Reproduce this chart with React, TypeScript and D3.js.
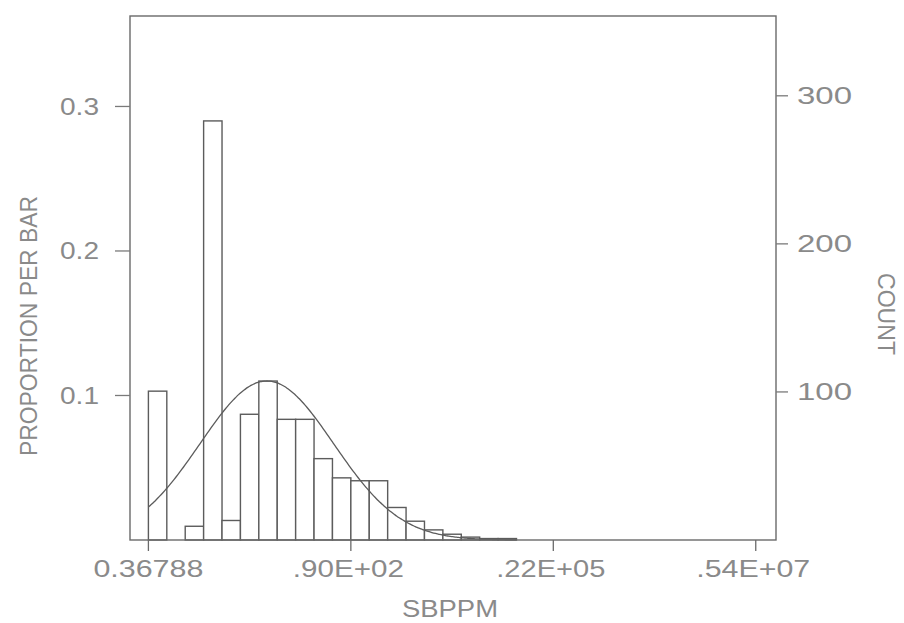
import React from "react";
import * as d3 from "d3";

// Histogram of ln(SBPPM), bins of width 0.5 (natural log units)
const binStarts = [-1, -0.5, 0, 0.5, 1, 1.5, 2, 2.5, 3, 3.5, 4, 4.5, 5, 5.5, 6, 6.5, 7, 7.5, 8, 8.5];
const proportions = [0.103, 0, 0.0095, 0.29, 0.0135, 0.087, 0.11, 0.0835, 0.0835, 0.0563, 0.043, 0.041, 0.041, 0.0225, 0.013, 0.007, 0.004, 0.002, 0.001, 0.001];
const BIN_WIDTH = 0.5;
const TOTAL_COUNT = 976;

// fitted normal curve (in ln units)
const FIT_MEAN = 2.217;
const FIT_SD = 1.813;
const FIT_RANGE = [-1, 9];

const xTickPositions = [-1, 4.5, 10, 15.5];
const xTickLabels = ["0.36788", ".90E+02", ".22E+05", ".54E+07"];
const xTickWidths = [110, 111, 109, 114];
const propTicks = [0.1, 0.2, 0.3];
const propTickLabels = ["0.1", "0.2", "0.3"];
const countTicks = [100, 200, 300];
const countTickLabels = ["100", "200", "300"];

const W = 904;
const H = 623;
const left = 130;
const right = 776;
const top = 16;
const bottom = 540;

export default function App() {
  const x = d3.scaleLinear().domain([-1.5, 16.05]).range([left, right]);
  const yP = d3.scaleLinear().domain([0, 0.3626]).range([bottom, top]);
  const yC = d3.scaleLinear().domain([0, 0.3626 * TOTAL_COUNT]).range([bottom, top]);

  const curvePts: [number, number][] = d3.range(FIT_RANGE[0], FIT_RANGE[1] + 0.001, 0.05).map((v) => {
    const z = (v - FIT_MEAN) / FIT_SD;
    const p = (BIN_WIDTH / (FIT_SD * Math.sqrt(2 * Math.PI))) * Math.exp(-0.5 * z * z);
    return [v, p];
  });
  const line = d3
    .line<[number, number]>()
    .x((d) => x(d[0]))
    .y((d) => yP(d[1]))
    .curve(d3.curveBasis);

  const textColor = "#8a8a8a";
  const lineColor = "#5c5c5c";
  const font = "'Liberation Sans', Arial, sans-serif";

  return (
    <svg width={W} height={H} style={{ position: "absolute", left: 0, top: 0, background: "#fff" }}>
      <rect x={0} y={0} width={W} height={H} fill="#fff" />
      {/* bars */}
      {binStarts.map((b, i) =>
        proportions[i] > 0 ? (
          <rect
            key={i}
            x={x(b)}
            y={yP(proportions[i])}
            width={x(b + BIN_WIDTH) - x(b)}
            height={bottom - yP(proportions[i])}
            fill="#fff"
            stroke={lineColor}
            strokeWidth={1.4}
          />
        ) : null
      )}
      {/* fitted curve */}
      <path d={line(curvePts) || ""} fill="none" stroke={lineColor} strokeWidth={1.3} />
      {/* frame */}
      <rect x={left} y={top} width={right - left} height={bottom - top} fill="none" stroke="#6a6a6a" strokeWidth={1.4} />
      {/* left axis ticks */}
      {propTicks.map((t, i) => (
        <g key={"p" + i}>
          <line x1={left - 15} x2={left} y1={yP(t)} y2={yP(t)} stroke="#7a7a7a" strokeWidth={1.3} />
          <text
            x={99}
            y={yP(t) + 8.5}
            textAnchor="end"
            fontFamily={font}
            fontSize={23}
            fill={textColor}
            textLength={39}
            lengthAdjust="spacingAndGlyphs"
          >
            {propTickLabels[i]}
          </text>
        </g>
      ))}
      {/* right axis ticks */}
      {countTicks.map((t, i) => (
        <g key={"c" + i}>
          <line x1={right} x2={right + 12} y1={yC(t)} y2={yC(t)} stroke="#7a7a7a" strokeWidth={1.3} />
          <text
            x={797}
            y={yC(t) + 8.5}
            textAnchor="start"
            fontFamily={font}
            fontSize={23}
            fill={textColor}
            textLength={55}
            lengthAdjust="spacingAndGlyphs"
          >
            {countTickLabels[i]}
          </text>
        </g>
      ))}
      {/* bottom axis ticks */}
      {xTickPositions.map((t, i) => (
        <g key={"x" + i}>
          <line x1={x(t)} x2={x(t)} y1={bottom} y2={bottom + 11} stroke="#6a6a6a" strokeWidth={1.3} />
          <text
            x={x(t) - (i === 0 ? 0 : 2.5)}
            y={577}
            textAnchor="middle"
            fontFamily={font}
            fontSize={23}
            fill={textColor}
            textLength={xTickWidths[i]}
            lengthAdjust="spacingAndGlyphs"
          >
            {xTickLabels[i]}
          </text>
        </g>
      ))}
      {/* axis titles */}
      <text
        x={450}
        y={617}
        textAnchor="middle"
        fontFamily={font}
        fontSize={23}
        fill={textColor}
        textLength={96}
        lengthAdjust="spacingAndGlyphs"
      >
        SBPPM
      </text>
      <text
        transform="translate(37,326) rotate(-90)"
        textAnchor="middle"
        fontFamily={font}
        fontSize={23}
        fill={textColor}
        textLength={260}
        lengthAdjust="spacingAndGlyphs"
      >
        PROPORTION PER BAR
      </text>
      <text
        transform="translate(878,314) rotate(90)"
        textAnchor="middle"
        fontFamily={font}
        fontSize={23}
        fill={textColor}
        textLength={82}
        lengthAdjust="spacingAndGlyphs"
      >
        COUNT
      </text>
    </svg>
  );
}
